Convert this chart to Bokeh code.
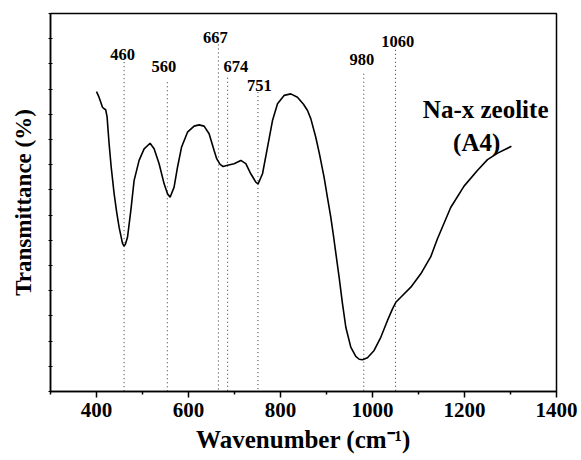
from bokeh.plotting import figure
from bokeh.models import FixedTicker, ColumnDataSource, CustomJSTickFormatter
from bokeh.embed import file_html
from bokeh.resources import INLINE
from bokeh.core.properties import value

# FTIR spectrum of Na-X zeolite (A4)
wavenumber = [400, 405, 408, 413, 416.5, 420, 423, 427.4, 432, 438.3, 444, 449.1, 456.5, 460, 463,
              467.4, 474.6, 481.7, 492.6, 503.5, 516.5, 525.2, 536.1, 547, 554.3, 560, 568.7,
              576.1, 584.8, 597.8, 612.2, 623, 633.9, 644.8, 655.7, 661.5, 668.7, 675.2, 684.8,
              699.1, 713.7, 724.6, 735.4, 746.3, 751.3, 760.9, 771.7, 782.6, 793.5, 807.8, 822.4,
              836.9, 850, 858.7, 866, 876.7, 885, 894.8, 902, 909.3, 915, 920.2, 927.4, 934.8,
              942, 952.8, 963.7, 971, 978.3, 989.1, 1003.5, 1018, 1032.6, 1043.5, 1050.7, 1061.5,
              1083.3, 1105, 1126.7, 1141, 1170, 1199, 1228, 1250, 1272, 1302]
transmittance = [11.9, 11.7, 11.55, 11.28, 11.22, 11.18, 10.9, 9.83, 8.9, 7.85, 7.1, 6.52, 5.88, 5.77, 5.85,
                 6.12, 7.18, 8.37, 9.17, 9.63, 9.85, 9.63, 9.04, 8.24, 7.85, 7.71, 8.11,
                 8.9, 9.69, 10.29, 10.53, 10.58, 10.53, 10.23, 9.56, 9.23, 9.01, 8.93, 8.98,
                 9.04, 9.17, 9.04, 8.64, 8.31, 8.24, 8.64, 9.69, 10.75, 11.42, 11.75, 11.81,
                 11.68, 11.4, 11.15, 10.82, 10.09, 9.4, 8.5, 7.7, 6.92, 6.2, 5.5, 4.54, 3.48,
                 2.55, 1.76, 1.39, 1.28, 1.26, 1.34, 1.63, 2.15, 2.82, 3.28, 3.54, 3.74,
                 4.14, 4.67, 5.35, 6.05, 7.3, 8.15, 8.77, 9.2, 9.46, 9.73]

# band markers
peak_pos = [460, 554, 665, 685, 751, 981, 1050]
peak_top = [13.07, 12.27, 13.77, 12.45, 11.88, 12.61, 13.56]
peak_label = ["460", "560", "667", "674", "751", "980", "1060"]
peak_label_x = [456.7, 546.3, 658.3, 702.8, 754.3, 976.7, 1055]
peak_label_y = [13.38, 12.88, 14.05, 12.88, 12.14, 13.17, 13.89]

x_ticks = [400, 600, 800, 1000, 1200, 1400]
x_minor = [300, 500, 700, 900, 1100, 1300]
y_ticks = list(range(0, 16))

sample_name = ["Na-x zeolite", "(A4)"]
sample_x = [1246, 1226.5]
sample_y = [11.19, 9.9]

x_title = "Wavenumber (cm\u207b\u00b9)"
y_title = "Transmittance (%)"

FONT = "Liberation Serif"

p = figure(frame_width=506, frame_height=378, x_range=(300, 1400), y_range=(0, 15),
           output_backend="svg", toolbar_location=None,
           min_border_left=50, min_border_top=13, min_border_right=25, min_border_bottom=69)

p.background_fill_color = "white"
p.border_fill_color = "white"
p.outline_line_color = "black"
p.outline_line_width = 1.5
p.xgrid.grid_line_color = None
p.ygrid.grid_line_color = None

# dotted band lines (drawn from the top down so the first dot sits at the top)
p.segment(x0=peak_pos, y0=peak_top, x1=peak_pos, y1=[0] * len(peak_pos),
          line_color="#333333", line_width=1, line_dash="1 3")

# spectrum
p.line(wavenumber, transmittance, line_color="black", line_width=1.6)

lbl = ColumnDataSource(dict(x=peak_label_x, y=peak_label_y, t=peak_label))
p.text(x="x", y="y", text="t", source=lbl, text_font=value(FONT), text_font_style="bold",
       text_font_size="16.5px", text_align="center", text_baseline="middle", text_color="black")

p.text(x=sample_x, y=sample_y, text=sample_name, text_font=value(FONT), text_font_style="bold",
       text_font_size="25px", text_align="center", text_baseline="middle", text_color="black")

# x axis
xa = p.xaxis[0]
xa.ticker = FixedTicker(ticks=x_ticks, minor_ticks=x_minor)
xa.axis_label = x_title
xa.axis_label_text_font = FONT
xa.axis_label_text_font_style = "bold"
xa.axis_label_text_font_size = "25px"
xa.axis_label_text_color = "black"
xa.axis_label_standoff = 6
xa.major_label_text_font = FONT
xa.major_label_text_font_style = "bold"
xa.major_label_text_font_size = "21px"
xa.major_label_text_color = "black"
xa.major_label_standoff = 5
xa.major_tick_out = 6
xa.major_tick_in = 0
xa.minor_tick_out = 3
xa.minor_tick_in = 0
xa.axis_line_width = 1.5
xa.major_tick_line_width = 1.5
xa.minor_tick_line_width = 1.5

# y axis (tick marks only, no numbers)
ya = p.yaxis[0]
ya.ticker = FixedTicker(ticks=y_ticks, minor_ticks=[])
ya.formatter = CustomJSTickFormatter(code="return ''")
ya.axis_label = y_title
ya.axis_label_text_font = FONT
ya.axis_label_text_font_style = "bold"
ya.axis_label_text_font_size = "23px"
ya.axis_label_text_color = "black"
ya.axis_label_standoff = 13
ya.major_label_standoff = 0
ya.major_tick_out = 2
ya.major_tick_in = 2
ya.axis_line_width = 1.5
ya.major_tick_line_width = 1

open("out.html", "w").write(file_html(p, INLINE))
